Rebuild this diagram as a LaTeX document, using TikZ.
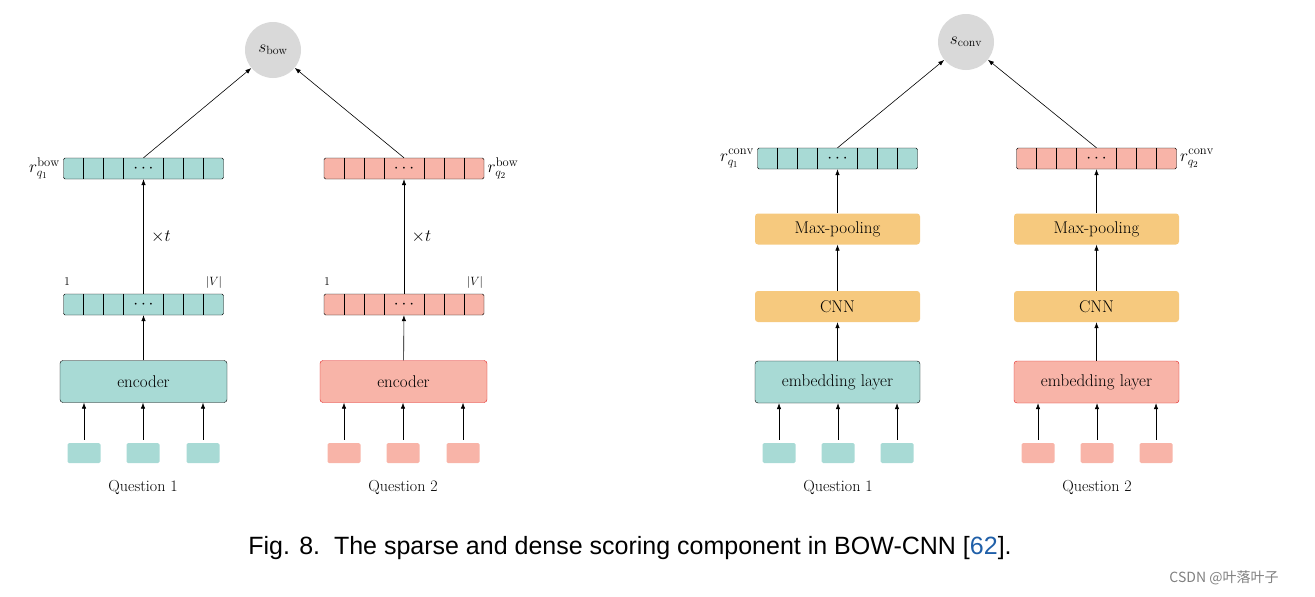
\documentclass[tikz,border=0pt]{standalone}
\usepackage{fontspec}
\newfontfamily\capfont{Liberation Sans}
\newfontfamily\cjk{Noto Sans CJK SC}
\usetikzlibrary{arrows.meta}
\definecolor{teal}{HTML}{A8DAD5}
\definecolor{pinkc}{HTML}{F8B4A8}
\definecolor{orangec}{HTML}{F6C97E}
\definecolor{greyc}{HTML}{D9D9D9}
\definecolor{redb}{HTML}{E02020}
\definecolor{capblue}{HTML}{1F5FA8}
\newcommand\myvec[4]{% name, x, y, colour
  \node[vecn,fill=#4] (#1) at (#2,#3) {};
  \foreach \dx in {-60,-40,-20,20,40,60}{\draw[thin] ([xshift=\dx pt]#1.north) -- ([xshift=\dx pt]#1.south);}
  \node at (#1) {$\cdots$};}
\begin{document}
\begin{tikzpicture}[x=1pt,y=-1pt,
  every node/.style={font=\fontsize{17}{19}\selectfont},
  vecn/.style={draw,rounded corners=1.5pt,minimum width=160pt,minimum height=21pt,inner sep=0pt},
  score/.style={circle,fill=greyc,minimum size=56pt,inner sep=0pt},
  enc/.style={draw,rounded corners=3pt,minimum width=167pt,minimum height=42pt},
  orng/.style={fill=orangec,rounded corners=3pt,minimum width=165pt,minimum height=31pt},
  inp/.style={rounded corners=1.5pt,minimum width=33pt,minimum height=20pt,inner sep=0pt},
  arr/.style={-{Latex[length=6pt,width=4.5pt]},line width=0.6pt},
  qlab/.style={font=\fontsize{16}{18}\selectfont},
  mlab/.style={font=\fontsize{18}{20}\selectfont}]
\useasboundingbox (0,0) rectangle (1315,597);
% ---------- left ----------
\node[score] (sb) at (273,50) {$s_{\mathrm{bow}}$};
\myvec{ra}{143.5}{168.5}{teal}
\myvec{rb}{404}{168.5}{pinkc}
\myvec{va}{143.5}{304.5}{teal}
\myvec{vb}{404}{304.5}{pinkc}
\node[mlab,anchor=east] at (ra.west) {$r^{\mathrm{bow}}_{q_1}$};
\node[mlab,anchor=west] at (rb.east) {$r^{\mathrm{bow}}_{q_2}$};
\node[font=\fontsize{12}{14}\selectfont] at (67,282) {1};
\node[font=\fontsize{12}{14}\selectfont] at (214,282) {$|V|$};
\node[font=\fontsize{12}{14}\selectfont] at (327,282) {1};
\node[font=\fontsize{12}{14}\selectfont] at (475,282) {$|V|$};
\node[enc,fill=teal] (ea) at (143.5,381.5) {encoder};
\node[enc,fill=pinkc,draw=redb] (eb) at (403.5,381.5) {encoder};
\foreach \n/\x in {ia1/84,ia2/143,ia3/203}{\node[inp,fill=teal] (\n) at (\x,453) {}; \draw[arr] (\n.north) ++(0,-3) -- (\n|-ea.south);}
\foreach \n/\x in {ib1/344,ib2/403,ib3/463}{\node[inp,fill=pinkc] (\n) at (\x,453) {}; \draw[arr] (\n.north) ++(0,-3) -- (\n|-eb.south);}
\node[qlab] at (143,487) {Question 1};
\node[qlab] at (403,487) {Question 2};
\draw[arr] (ea) -- (va);
\draw[arr] (eb) -- (vb);
\draw[arr] (va) -- node[right=4pt,mlab]{$\times t$} (ra);
\draw[arr] (vb) -- node[right=4pt,mlab]{$\times t$} (rb);
\draw[arr] (ra.north) -- (sb);
\draw[arr] (rb.north) -- (sb);
% ---------- right ----------
\node[score] (sc) at (966,42) {$s_{\mathrm{conv}}$};
\myvec{rc}{837.5}{158.5}{teal}
\myvec{rd}{1096.5}{158.5}{pinkc}
\node[mlab,anchor=east] at (rc.west) {$r^{\mathrm{conv}}_{q_1}$};
\node[mlab,anchor=west] at (rd.east) {$r^{\mathrm{conv}}_{q_2}$};
\node[orng] (mc) at (837.5,229) {Max-pooling};
\node[orng] (md) at (1096.5,229) {Max-pooling};
\node[orng] (cc) at (837.5,306.5) {CNN};
\node[orng] (cd) at (1096.5,306.5) {CNN};
\node[enc,fill=teal,minimum width=165pt] (ec) at (837.5,382) {embedding layer};
\node[enc,fill=pinkc,draw=redb,minimum width=165pt] (ed) at (1096.5,382) {embedding layer};
\foreach \n/\x in {ic1/779,ic2/838,ic3/897}{\node[inp,fill=teal] (\n) at (\x,453) {}; \draw[arr] (\n.north) ++(0,-3) -- (\n|-ec.south);}
\foreach \n/\x in {id1/1038,id2/1097,id3/1156}{\node[inp,fill=pinkc] (\n) at (\x,453) {}; \draw[arr] (\n.north) ++(0,-3) -- (\n|-ed.south);}
\node[qlab] at (838,487) {Question 1};
\node[qlab] at (1097,487) {Question 2};
\draw[arr] (ec) -- (cc);
\draw[arr] (ed) -- (cd);
\draw[arr] (cc) -- (mc);
\draw[arr] (cd) -- (md);
\draw[arr] (mc) -- (rc);
\draw[arr] (md) -- (rd);
\draw[arr] (rc.north) -- (sc);
\draw[arr] (rd.north) -- (sc);
% ---------- caption ----------
\node[font=\capfont\fontsize{25}{28}\selectfont] (cap) at (630,548) {Fig. 8.\ \ The sparse and dense scoring component in BOW-CNN [\textcolor{capblue}{62}].};
\node[font=\cjk\fontsize{14}{16}\selectfont,text=gray] (wm) at (1224,578) {CSDN @叶落叶子};
\end{tikzpicture}
\end{document}
